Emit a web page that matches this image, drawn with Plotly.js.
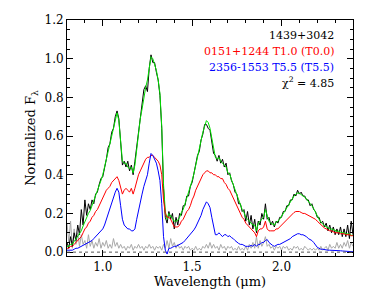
<!DOCTYPE html>
<html>
<head>
<meta charset="utf-8">
<script src="https://cdn.plot.ly/plotly-3.0.1.min.js"></script>
<style>html,body{margin:0;padding:0;background:#fff;}#chart{width:374px;height:299px;}</style>
</head>
<body>
<div id="chart"></div>
<script>
// Wavelength grid (microns): 0.80 to 2.40 in 0.01 steps
const WAVE_START = 0.80;
const WAVE_STEP = 0.01;

// Observed spectrum 1439+3042 (black)
const observed = [
.05,.02,.08,.03,.10,.06,.14,.09,.22,.14,
.27,.19,.25,.22,.27,.25,.30,.31,.35,.38,
.39,.43,.48,.54,.56,.62,.64,.70,.73,.69,
.56,.45,.47,.44,.47,.42,.45,.40,.47,.55,
.63,.70,.76,.84,.86,.83,.95,1.02,.98,.98,
.93,.89,.81,.64,.33,.18,.15,.21,.17,.20,
.12,.18,.14,.20,.19,.24,.24,.29,.29,.34,
.36,.41,.44,.50,.52,.58,.61,.66,.66,.64,
.63,.58,.51,.50,.47,.50,.46,.48,.44,.46,
.40,.41,.37,.35,.31,.30,.25,.25,.21,.22,
.16,.21,.14,.19,.12,.17,.10,.16,.14,.20,
.17,.25,.17,.18,.14,.16,.13,.16,.15,.18,
.18,.21,.21,.24,.24,.27,.27,.30,.29,.32,
.30,.31,.29,.29,.27,.27,.24,.25,.22,.21,
.18,.18,.15,.16,.13,.15,.11,.14,.10,.13,
.09,.12,.09,.13,.08,.12,.08,.14,.07,.16,.09];

// Composite template (green)
const composite = [
.03,.03,.04,.04,.055,.07,.08,.095,.11,.135,
.16,.175,.20,.215,.24,.26,.29,.31,.34,.37,
.40,.44,.49,.53,.57,.61,.65,.69,.72,.68,
.57,.47,.46,.46,.44,.43,.44,.41,.45,.54,
.62,.69,.74,.80,.85,.89,.95,1.01,1.00,.97,
.94,.89,.82,.65,.35,.21,.17,.20,.19,.175,
.16,.16,.165,.18,.205,.22,.25,.28,.30,.33,
.37,.405,.45,.49,.53,.57,.62,.65,.68,.67,
.64,.59,.53,.49,.48,.49,.47,.46,.45,.44,
.41,.405,.375,.35,.32,.29,.265,.24,.22,.205,
.18,.17,.16,.155,.14,.14,.11,.15,.16,.17,
.18,.22,.185,.16,.15,.145,.14,.155,.16,.17,
.185,.20,.215,.23,.245,.26,.28,.29,.30,.305,
.305,.295,.29,.285,.275,.26,.25,.24,.225,.205,
.185,.17,.155,.145,.137,.132,.125,.12,.12,.115,
.11,.108,.108,.102,.101,.10,.095,.094,.093,.087,.087];

// Primary 0151+1244 T1.0 (red)
const primary = [
.02,.02,.03,.03,.04,.05,.06,.07,.08,.10,
.12,.13,.15,.16,.18,.19,.21,.22,.24,.26,
.28,.30,.32,.33,.34,.36,.37,.38,.39,.37,
.33,.30,.32,.33,.32,.31,.33,.30,.33,.37,
.40,.42,.44,.46,.48,.49,.49,.50,.50,.49,
.48,.47,.45,.40,.27,.20,.18,.18,.17,.15,
.13,.13,.13,.14,.16,.17,.19,.21,.22,.24,
.27,.29,.32,.34,.36,.38,.40,.41,.42,.42,
.41,.41,.40,.40,.39,.39,.38,.38,.36,.35,
.33,.32,.30,.28,.26,.24,.22,.20,.18,.17,
.15,.14,.13,.12,.11,.10,.08,.11,.12,.12,
.13,.16,.12,.11,.11,.11,.11,.12,.12,.13,
.14,.15,.16,.17,.18,.19,.20,.205,.21,.21,
.21,.205,.20,.20,.195,.19,.185,.18,.175,.17,
.16,.15,.14,.13,.125,.12,.115,.11,.11,.105,
.10,.10,.10,.095,.095,.095,.09,.09,.09,.085,.085];

// Secondary 2356-1553 T5.5 (blue)
const secondary = [
.01,.01,.01,.01,.015,.02,.02,.025,.03,.035,
.04,.045,.05,.055,.06,.07,.08,.09,.10,.11,
.12,.14,.17,.20,.23,.25,.28,.31,.33,.31,
.24,.17,.14,.13,.12,.12,.11,.11,.12,.17,
.22,.27,.30,.34,.37,.40,.46,.51,.50,.48,
.46,.42,.37,.25,.08,.01,-.01,.02,.02,.025,
.03,.03,.035,.04,.045,.05,.06,.07,.08,.09,
.10,.115,.13,.15,.17,.19,.22,.24,.26,.25,
.23,.18,.13,.09,.09,.10,.09,.08,.09,.09,
.08,.085,.075,.07,.06,.05,.045,.04,.04,.035,
.03,.03,.03,.035,.03,.04,.03,.04,.04,.05,
.05,.06,.065,.05,.04,.035,.03,.035,.04,.04,
.045,.05,.055,.06,.065,.07,.08,.085,.09,.095,
.095,.09,.09,.085,.08,.07,.065,.06,.05,.035,
.025,.02,.015,.015,.012,.012,.01,.01,.01,.01,
.01,.008,.008,.007,.006,.005,.005,.004,.003,.002,.002];

// Noise spectrum (grey)
const noise = [
.15,.05,.16,.02,.12,.04,.10,.03,.09,.04,
.06,.02,.09,.03,.06,.02,.05,.03,.07,.02,
.05,.03,.06,.02,.04,.02,.07,.03,.05,.02,
.04,.02,.03,.01,.03,.02,.04,.01,.03,.02,
.04,.02,.03,.01,.03,.02,.04,.02,.03,.01,
.03,.02,.03,.01,.04,.02,.06,.02,.07,.03,
.05,.02,.04,.02,.03,.01,.03,.02,.03,.01,
.02,.01,.03,.01,.02,.01,.03,.02,.04,.02,
.05,.02,.04,.02,.03,.01,.04,.02,.03,.01,
.03,.02,.03,.01,.02,.01,.03,.01,.02,.01,
.03,.01,.04,.02,.05,.02,.08,.02,.06,.03,
.05,.08,.03,.04,.02,.03,.01,.03,.02,.03,
.01,.03,.02,.03,.01,.02,.01,.03,.02,.03,
.01,.02,.01,.03,.02,.01,.02,.01,.02,.01,
.02,.01,.03,.01,.02,.03,.01,.04,.02,.03,
.02,.05,.02,.04,.02,.05,.03,.06,.02,.05,.03];

const xTickVals = [1.0, 1.5, 2.0];
const xTickText = ["1.0", "1.5", "2.0"];
const labels = ["1439+3042", "0151+1244 T1.0 (T0.0)", "2356-1553 T5.5 (T5.5)", "χ<sup>2</sup> = 4.85"];
const labelColors = ["#000000", "#ff0000", "#0000ff", "#000000"];

const wave = observed.map((_, i) => +(WAVE_START + i * WAVE_STEP).toFixed(2));

const FONT = "DejaVu Serif";
const mk = (y, color) => ({x: wave, y: y, type: 'scatter', mode: 'lines',
  line: {color: color, width: 1}, hoverinfo: 'skip', showlegend: false});

const traces = [
  mk(noise, '#a8a8a8'),
  mk(observed, '#000000'),
  mk(composite, '#00e000'),
  mk(primary, '#ff0000'),
  mk(secondary, '#0000ff')
];

const labelY = [0.936, 0.866, 0.799, 0.737];
const annotations = labels.map((t, i) => ({
  text: t, xref: 'paper', yref: 'paper', x: 0.94, y: labelY[i],
  xanchor: 'right', yanchor: 'middle', showarrow: false,
  font: {family: FONT, size: 11, color: labelColors[i]}
}));

const axisCommon = {
  showgrid: false, zeroline: false, showline: true, linecolor: '#000', linewidth: 1,
  mirror: 'allticks', ticks: 'inside', ticklen: 6, tickcolor: '#000', tickwidth: 1,
  tickfont: {family: FONT, size: 12, color: '#000'}
};

const layout = {
  width: 374, height: 299,
  margin: {l: 67, r: 21, t: 20, b: 43},
  paper_bgcolor: '#fff', plot_bgcolor: '#fff',
  font: {family: FONT, color: '#000'},
  xaxis: Object.assign({}, axisCommon, {
    range: [0.8, 2.4], tickvals: xTickVals, ticktext: xTickText,
    minor: {dtick: 0.1, tick0: 0.8, ticklen: 3, ticks: 'inside', tickcolor: '#000'},
    title: {text: 'Wavelength (μm)', font: {family: FONT, size: 13}, standoff: 3}
  }),
  yaxis: Object.assign({}, axisCommon, {
    range: [-0.02, 1.2], dtick: 0.2, tick0: 0, tickformat: '.1f',
    minor: {dtick: 0.05, ticklen: 3, ticks: 'inside', tickcolor: '#000'},
    title: {text: 'Normalized F<sub>λ</sub>', font: {family: FONT, size: 13}, standoff: 5}
  }),
  shapes: [{type: 'line', xref: 'paper', yref: 'y', x0: 0, x1: 1, y0: 0, y1: 0,
    line: {color: '#555', width: 1, dash: 'dot'}}],
  annotations: annotations
};

Plotly.newPlot('chart', traces, layout, {staticPlot: true, displayModeBar: false});
</script>
</body>
</html>
